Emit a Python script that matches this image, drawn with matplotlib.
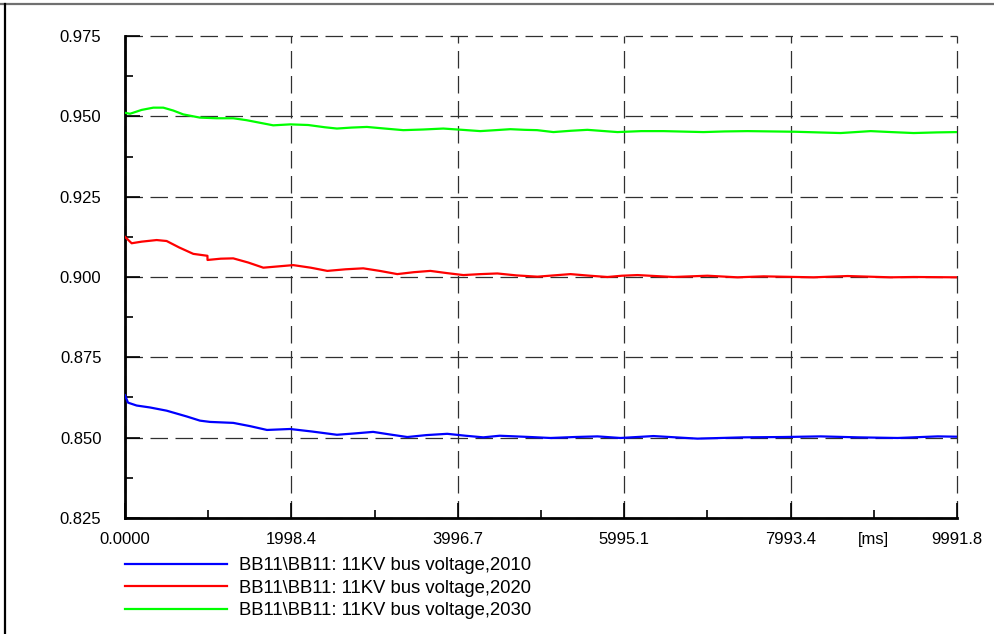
import matplotlib
matplotlib.use("Agg")
import matplotlib.pyplot as plt
from matplotlib.lines import Line2D

plt.rcParams['font.family'] = ['Liberation Sans', 'DejaVu Sans']

# ---- data ----
t_2010 = [0, 36, 140, 300, 500, 741, 900, 1022, 1300, 1500, 1705, 1983, 2250, 2545, 2750,
          2980, 3180, 3390, 3620, 3870, 4090, 4303, 4500, 4869, 5110, 5400, 5675, 5950,
          6346, 6875, 7428, 7900, 8354, 8800, 9280, 9761, 9992]
v_2010 = [0.8632, 0.8609, 0.8600, 0.8594, 0.8584, 0.8566, 0.8553, 0.8549, 0.8546, 0.8536,
          0.8524, 0.8527, 0.8519, 0.8509, 0.8513, 0.8518, 0.8510, 0.8502, 0.8508, 0.8512,
          0.8506, 0.8501, 0.8506, 0.8502, 0.8499, 0.8502, 0.8504, 0.8499, 0.8505, 0.8497,
          0.8501, 0.8502, 0.8504, 0.8501, 0.8499, 0.8504, 0.8503]

t_2020 = [0, 80, 200, 380, 500, 650, 820, 990, 991, 1150, 1300, 1480, 1661, 1840, 2020,
          2230, 2430, 2650, 2861, 3060, 3270, 3470, 3667, 3870, 4064, 4270, 4472, 4700,
          4953, 5150, 5350, 5580, 5794, 5970, 6155, 6370, 6587, 6995, 7356, 7668, 8270,
          8678, 9195, 9472, 9992]
v_2020 = [0.9125, 0.9105, 0.9110, 0.9115, 0.9112, 0.9092, 0.9072, 0.9066, 0.9053, 0.9057,
          0.9058, 0.9045, 0.9029, 0.9033, 0.9037, 0.9029, 0.9019, 0.9024, 0.9027, 0.9019,
          0.9009, 0.9015, 0.9019, 0.9012, 0.9006, 0.9009, 0.9011, 0.9005, 0.9001, 0.9005,
          0.9009, 0.9004, 0.9000, 0.9004, 0.9006, 0.9003, 0.9000, 0.9004, 0.8999, 0.9002,
          0.8999, 0.9003, 0.8999, 0.9000, 0.8999]

t_2030 = [0, 60, 200, 340, 460, 580, 700, 900, 1100, 1300, 1460, 1620, 1780, 1985, 2200,
          2400, 2545, 2720, 2905, 3120, 3342, 3580, 3822, 4050, 4267, 4450, 4628, 4800,
          4949, 5145, 5350, 5553, 5914, 6200, 6466, 6947, 7200, 7476, 8050, 8594, 8955,
          9200, 9471, 9750, 9992]
v_2030 = [0.9511, 0.9508, 0.9520, 0.9527, 0.9527, 0.9518, 0.9506, 0.9496, 0.9494, 0.9494,
          0.9488, 0.9480, 0.9472, 0.9475, 0.9473, 0.9466, 0.9462, 0.9465, 0.9467, 0.9462,
          0.9457, 0.9459, 0.9462, 0.9458, 0.9454, 0.9457, 0.9460, 0.9458, 0.9457, 0.9451,
          0.9455, 0.9458, 0.9451, 0.9454, 0.9454, 0.9451, 0.9453, 0.9454, 0.9452, 0.9448,
          0.9454, 0.9451, 0.9448, 0.9450, 0.9451]

labels = ["BB11\\BB11: 11KV bus voltage,2010",
          "BB11\\BB11: 11KV bus voltage,2020",
          "BB11\\BB11: 11KV bus voltage,2030"]
colors = ["#0000FF", "#FF0000", "#00FF00"]

x_major = [0.0, 1998.36, 3996.72, 5995.08, 7993.44, 9991.8]
x_major_labels = ["0.0000", "1998.4", "3996.7", "5995.1", "7993.4", "9991.8"]
x_minor = [999.18, 2997.54, 4995.9, 6994.26, 8992.62]
x_minor_labels = ["", "", "", "", "[ms]"]
y_major = [0.825, 0.850, 0.875, 0.900, 0.925, 0.950, 0.975]
y_major_labels = ["0.825", "0.850", "0.875", "0.900", "0.925", "0.950", "0.975"]
y_minor = [0.8375, 0.8625, 0.8875, 0.9125, 0.9375, 0.9625]

# ---- figure ----
fig = plt.figure(figsize=(9.94, 6.34), dpi=100)
ax = fig.add_axes([125 / 994, 1 - 518 / 634, (957 - 125) / 994, (518 - 36) / 634])

for t, v, c, lab in zip([t_2010, t_2020, t_2030], [v_2010, v_2020, v_2030], colors, labels):
    ax.plot(t, v, color=c, lw=1.6, label=lab, zorder=3)

ax.set_xlim(0, 9991.8)
ax.set_ylim(0.825, 0.975)

ax.set_xticks(x_major)
ax.set_xticklabels(x_major_labels)
ax.set_xticks(x_minor, minor=True)
ax.set_xticklabels(x_minor_labels, minor=True)
ax.set_yticks(y_major)
ax.set_yticklabels(y_major_labels)
ax.set_yticks(y_minor, minor=True)

ax.tick_params(axis='both', which='major', direction='in', length=11, width=1.2,
               labelsize=12, color='black')
ax.tick_params(axis='both', which='minor', direction='in', length=6, width=1.2,
               labelsize=12, color='black')
ax.tick_params(axis='x', which='both', pad=10)
ax.tick_params(axis='y', which='both', pad=17)

ax.grid(True, which='major', color='#303030', lw=0.9, linestyle=(0, (14, 6)))
for gl in ax.get_xgridlines() + ax.get_ygridlines():
    gl.set_clip_on(False)

for s in ['top', 'right']:
    ax.spines[s].set_visible(False)
for s in ['left', 'bottom']:
    ax.spines[s].set_linewidth(2)
    ax.spines[s].set_color('black')

leg = ax.legend(loc='upper left', bbox_to_anchor=(125 / 994, 1 - 557 / 634),
                bbox_transform=fig.transFigure, frameon=False, fontsize=13.3,
                handlelength=5.5, handletextpad=0.65, labelspacing=0.3, borderpad=0,
                borderaxespad=0)
for ln in leg.get_lines():
    ln.set_linewidth(1.6)

# outer frame lines
fig.add_artist(Line2D([0, 1], [1 - 4 / 634, 1 - 4 / 634], transform=fig.transFigure,
                      color='#707070', lw=1.6))
fig.add_artist(Line2D([4.5 / 994, 4.5 / 994], [0, 1 - 4 / 634], transform=fig.transFigure,
                      color='black', lw=1.6))

fig.savefig("out.png", dpi=100)
